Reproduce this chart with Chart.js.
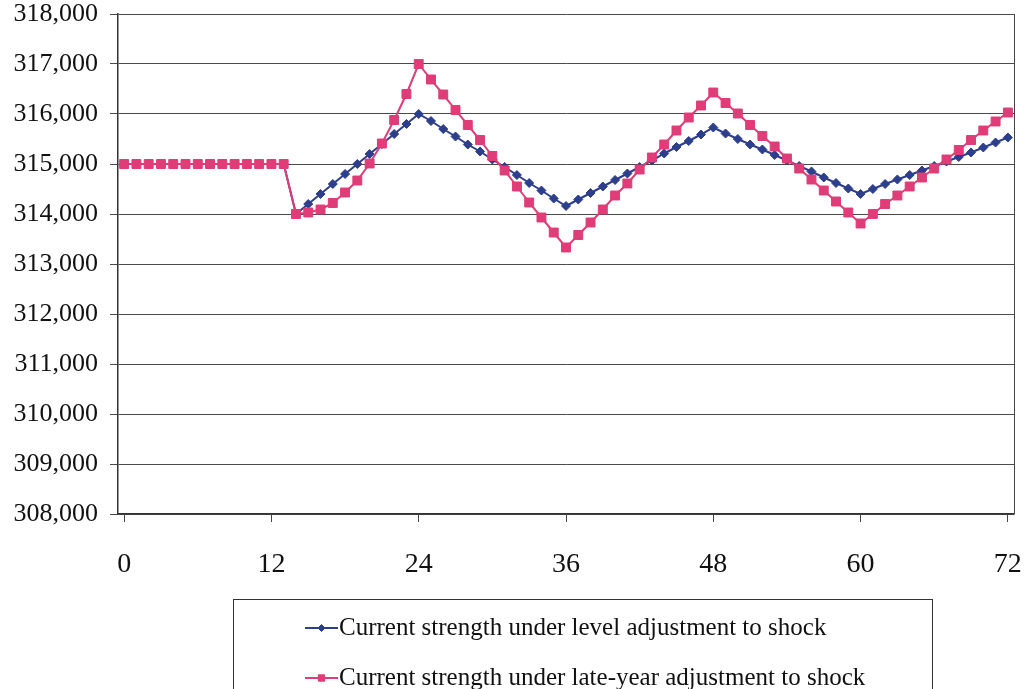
<!DOCTYPE html>
<html><head><meta charset="utf-8">
<script src="https://cdn.jsdelivr.net/npm/chart.js@4/dist/chart.umd.min.js"></script>
<style>html,body{margin:0;padding:0;background:#fff}canvas{display:block}</style>
</head><body>
<canvas id="c" width="1026" height="689"></canvas>
<script>
const months = [0,1,2,3,4,5,6,7,8,9,10,11,12,13,14,15,16,17,18,19,20,21,22,23,24,25,26,27,28,29,30,31,32,33,34,35,36,37,38,39,40,41,42,43,44,45,46,47,48,49,50,51,52,53,54,55,56,57,58,59,60,61,62,63,64,65,66,67,68,69,70,71,72];
const xTickLabels = ['0','12','24','36','48','60','72'];
const seriesLabels = ['Current strength under level adjustment to shock','Current strength under late-year adjustment to shock'];
const levelAdjustment = [
  315000,315000,315000,315000,315000,315000,315000,315000,315000,315000,315000,315000,315000,315000,
  314000,314200,314400,314600,314800,315000,315200,315400,315600,315800,316000,
  315860,315700,315550,315390,315250,315090,314940,314780,314620,314470,314310,314160,
  314290,314420,314550,314680,314810,314940,315070,315210,315340,315460,315590,315730,
  315610,315500,315390,315290,315180,315070,314960,314850,314730,314620,314510,314400,
  314500,314600,314690,314780,314870,314960,315050,315140,315230,315330,315430,315530
];
const lateYearAdjustment = [
  315000,315000,315000,315000,315000,315000,315000,315000,315000,315000,315000,315000,315000,315000,
  314000,314030,314090,314220,314430,314670,315010,315410,315880,316400,317000,
  316690,316390,316080,315780,315480,315160,314870,314550,314230,313930,313630,313330,
  313580,313830,314090,314370,314610,314890,315130,315390,315670,315930,316170,316430,
  316220,316010,315780,315560,315350,315110,314910,314690,314470,314250,314030,313810,
  314000,314200,314370,314550,314730,314910,315090,315280,315480,315670,315850,316030
];
const yMin = 308000, yMax = 318000, yStep = 1000;

const BLUE = '#2c3e8c', PINK = '#e03c78';
const FONT = '"Liberation Serif", "Times New Roman", serif';

const framePlugin = {
  id: 'frame',
  afterDraw(chart) {
    const ctx = chart.ctx, a = chart.chartArea;
    ctx.save();
    ctx.strokeStyle = '#444';
    ctx.lineWidth = 1;
    ctx.beginPath();
    ctx.moveTo(a.right + 0.5, a.top);
    ctx.lineTo(a.right + 0.5, a.bottom);
    ctx.stroke();
    const bx = 233.5, by = 599.5, bw = 699, bh = 120;
    ctx.strokeStyle = '#333';
    ctx.strokeRect(bx, by, bw, bh);
    ctx.font = '25px ' + FONT;
    ctx.textBaseline = 'middle';
    ctx.textAlign = 'left';
    chart.data.datasets.forEach((ds, i) => {
      const cy = 628 + i * 50;
      ctx.strokeStyle = ds.borderColor;
      ctx.lineWidth = 2;
      ctx.beginPath();
      ctx.moveTo(305, cy);
      ctx.lineTo(338, cy);
      ctx.stroke();
      ctx.fillStyle = ds.pointBackgroundColor;
      ctx.strokeStyle = ds.pointBorderColor;
      ctx.lineWidth = 1;
      Chart.helpers.drawPoint(ctx, {pointStyle: ds.pointStyle, rotation: 0, radius: ds.legendRadius, borderWidth: 1}, 321.5, cy);
      ctx.fillStyle = '#111';
      ctx.fillText(ds.label, 339, cy);
    });
    ctx.restore();
  }
};

new Chart(document.getElementById('c'), {
  type: 'line',
  data: {
    labels: months,
    datasets: [
      {
        label: seriesLabels[0],
        data: levelAdjustment,
        borderColor: BLUE, backgroundColor: BLUE,
        pointBackgroundColor: BLUE, pointBorderColor: BLUE,
        pointStyle: 'rectRot', pointRadius: 4.5, pointBorderWidth: 1,
        legendRadius: 3.5,
        borderWidth: 2, tension: 0, order: 1
      },
      {
        label: seriesLabels[1],
        data: lateYearAdjustment,
        borderColor: PINK, backgroundColor: PINK,
        pointBackgroundColor: PINK, pointBorderColor: PINK,
        pointStyle: 'rect', pointRadius: 6.3, pointBorderWidth: 1,
        legendRadius: 4.5,
        borderWidth: 2, tension: 0, order: 0
      }
    ]
  },
  options: {
    responsive: false,
    animation: false,
    events: [],
    layout: { padding: { left: 0, right: 12, top: 14, bottom: 109 } },
    plugins: { legend: { display: false }, tooltip: { enabled: false } },
    scales: {
      x: {
        type: 'category',
        offset: true,
        afterFit(s) { s.height = 66; s.paddingLeft = 0; s.paddingRight = 0; },
        border: { display: true, color: '#333', width: 1.5 },
        grid: {
          drawOnChartArea: false, drawTicks: true, tickLength: 8,
          color: (c) => (c.tick && xTickLabels.includes(String(c.tick.label)) ? '#444' : 'rgba(0,0,0,0)')
        },
        ticks: {
          autoSkip: false, maxRotation: 0, padding: 29,
          color: '#111', font: { family: FONT, size: 28, lineHeight: 1 },
          callback(v, i) { const l = String(months[i]); return xTickLabels.includes(l) ? l : ''; }
        }
      },
      y: {
        min: yMin, max: yMax,
        afterFit(s) { s.width = 118; s.paddingTop = 0; s.paddingBottom = 0; },
        border: { display: true, color: '#333', width: 1.5 },
        grid: { color: '#4a4a4a', lineWidth: 1, tickLength: 8, drawTicks: true },
        ticks: {
          stepSize: yStep, padding: 12, color: '#111',
          font: { family: FONT, size: 26, lineHeight: 1 },
          callback: (v) => v.toLocaleString('en-US')
        }
      }
    }
  },
  plugins: [framePlugin]
});
</script>
</body></html>
